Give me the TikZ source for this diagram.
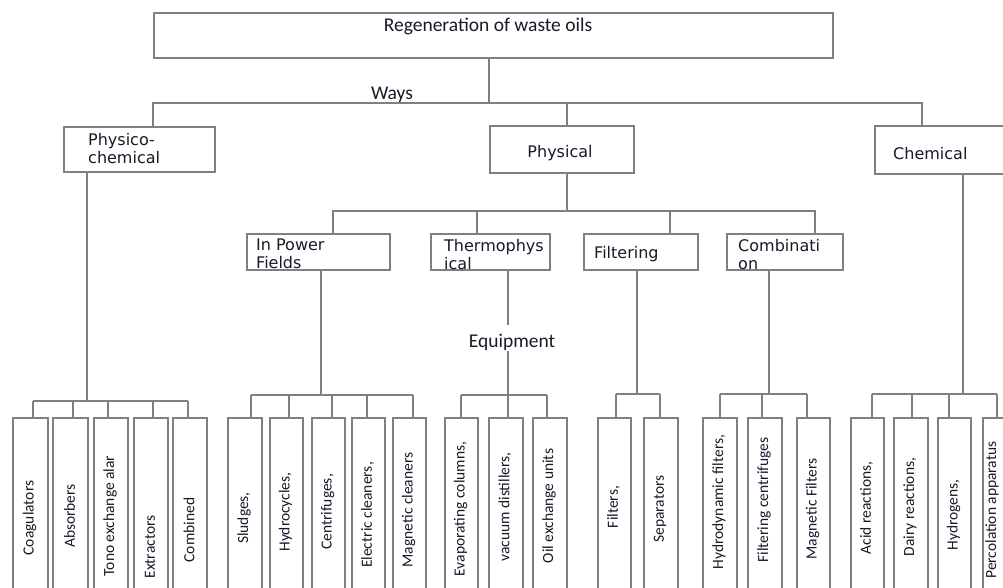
\documentclass[tikz,border=0pt]{standalone}
\usepackage{fontspec}
\setmainfont{Carlito}
\newfontfamily\boxfont{DejaVu Sans}
\usetikzlibrary{calc}

\definecolor{linegray}{RGB}{128,128,128}
\definecolor{inkdark}{RGB}{28,24,40}

% leaf: name, left x, right x, drop x, label y, bus coordinate, text
\newcommand\leaf[7]{%
  \node[leafbox, minimum width={(#3-#2)*1pt}] (#1) at (#2,417) {};
  \coordinate (#1-in) at (#4,417);
  \draw[conn] (#1-in |- #6) -- (#1-in);
  \node[leaflab] (#1-t) at ({(#2+#3)/2},#5) {#7};
}

\begin{document}
\begin{tikzpicture}[x=1pt,y=-1pt,
  conn/.style={draw=linegray, line width=1.6pt},
  box/.style={draw=linegray, line width=1.6pt, fill=white, inner sep=0pt, anchor=north west},
  leafbox/.style={box, minimum height=240pt},
  headlab/.style={font=\fontsize{19.5}{19.5}\selectfont, text=inkdark, inner sep=0pt},
  boxlab/.style={font=\boxfont\fontsize{16}{18}\selectfont, text=inkdark, inner sep=0pt,
    anchor=north west, align=left},
  leaflab/.style={font=\fontsize{15.5}{15.5}\selectfont, text=inkdark, inner sep=0pt, rotate=90},
]
\useasboundingbox (0,0) rectangle (1003,587);
\clip (0,0) rectangle (1003,587);
\fill[white] (0,0) rectangle (1003,587);

% root
\node[box, minimum width=679pt, minimum height=45pt] (top) at (153,12) {};
\node[headlab, anchor=base] (toplab) at (488,31) {Regeneration of waste oils};
\coordinate (top-out) at (489,57);
\coordinate (waysbus) at (489,103);
\node[headlab, anchor=base] (ways) at (392,99) {Ways};

% three ways
\node[box, minimum width=151pt, minimum height=45pt] (pc) at (63,126) {};
\node[boxlab] (pclab) at (88,133) {Physico-\\chemical};
\node[box, minimum width=144pt, minimum height=47pt] (ph) at (489,125) {};
\node[boxlab, anchor=base] (phlab) at (560,157) {Physical};
\node[box, minimum width=170pt, minimum height=48pt] (ch) at (874,125) {};
\node[boxlab, anchor=base west] (chlab) at (893,159) {Chemical};

\coordinate (pc-in) at (153,126);
\coordinate (ph-in) at (567,125);
\coordinate (ch-in) at (922,125);
\draw[conn] (top-out) -- (waysbus);
\draw[conn] (pc-in) -- (pc-in |- waysbus) -- (ch-in |- waysbus) -- (ch-in);
\draw[conn] (ph-in |- waysbus) -- (ph-in);

% physical methods
\coordinate (ph-out) at (567,172);
\coordinate (physbus) at (567,211);
\node[box, minimum width=143pt, minimum height=36pt] (ipf) at (246,233) {};
\node[boxlab] (ipflab) at (256,239) {In Power\\Fields};
\node[box, minimum width=119pt, minimum height=36pt] (thp) at (430,233) {};
\node[boxlab] (thplab) at (444,239) {Thermophys\\ical};
\node[box, minimum width=114pt, minimum height=36pt] (fil) at (583,233) {};
\node[boxlab, anchor=base west] (fillab) at (594,258) {Filtering};
\node[box, minimum width=116pt, minimum height=36pt] (cmb) at (726,233) {};
\node[boxlab] (cmblab) at (738,239) {Combinati\\on};

\coordinate (ipf-in) at (333,233);
\coordinate (thp-in) at (477,233);
\coordinate (fil-in) at (670,233);
\coordinate (cmb-in) at (815,233);
\draw[conn] (ph-out) -- (physbus);
\draw[conn] (ipf-in) -- (ipf-in |- physbus) -- (cmb-in |- physbus) -- (cmb-in);
\draw[conn] (thp-in |- physbus) -- (thp-in);
\draw[conn] (fil-in |- physbus) -- (fil-in);

% physico-chemical devices
\coordinate (pc-out) at (87,171);
\coordinate (g1) at (87,401);
\draw[conn] (pc-out) -- (g1);
\leaf{l11}{12}{47}{33}{518}{g1}{Coagulators}
\leaf{l12}{52}{87}{73}{516}{g1}{Absorbers}
\leaf{l13}{93}{127}{108}{516}{g1}{Tono exchange alar}
\leaf{l14}{133}{167}{153}{547}{g1}{Extractors}
\leaf{l15}{172}{206}{188}{530}{g1}{Combined}
\draw[conn] (l11-in |- g1) -- (l15-in |- g1);

% devices in power fields
\coordinate (ipf-out) at (321,269);
\coordinate (g2) at (321,395);
\draw[conn] (ipf-out) -- (g2);
\leaf{l21}{227}{261}{251}{518}{g2}{Sludges,}
\leaf{l22}{269}{302}{289}{512}{g2}{Hydrocycles,}
\leaf{l23}{311}{344}{332}{512}{g2}{Centrifuges,}
\leaf{l24}{351}{384}{367}{515}{g2}{Electric cleaners,}
\leaf{l25}{392}{425}{413}{510}{g2}{Magnetic cleaners}
\draw[conn] (l21-in |- g2) -- (l25-in |- g2);

% thermophysical equipment
\coordinate (thp-out) at (508,269);
\coordinate (g3) at (508,395);
\node[headlab, anchor=base] (equip) at (512,347) {Equipment};
\draw[conn] (thp-out) -- (thp-out |- 0,325);
\draw[conn] (g3 |- 0,351) -- (g3);
\leaf{l31}{444}{477}{461}{509}{g3}{Evaporating columns,}
\leaf{l32}{488}{522}{508}{507}{g3}{vacuum distillers,}
\leaf{l33}{532}{566}{547}{506}{g3}{Oil exchange units}
\draw[conn] (l31-in |- g3) -- (l33-in |- g3);

% filtering devices
\coordinate (fil-out) at (637,269);
\coordinate (g4) at (637,394);
\draw[conn] (fil-out) -- (g4);
\leaf{l41}{597}{630}{616}{507}{g4}{Filters,}
\leaf{l42}{643}{677}{660}{509}{g4}{Separators}
\draw[conn] (l41-in |- g4) -- (l42-in |- g4);

% combined devices
\coordinate (cmb-out) at (769,269);
\coordinate (g5) at (769,394);
\draw[conn] (cmb-out) -- (g5);
\leaf{l51}{702}{736}{720}{502}{g5}{Hydrodynamic filters,}
\leaf{l52}{747}{781}{762}{500}{g5}{Filtering centrifuges}
\leaf{l53}{796}{829}{807}{509}{g5}{Magnetic Filters}
\draw[conn] (l51-in |- g5) -- (l53-in |- g5);

% chemical methods
\coordinate (ch-out) at (963,173);
\coordinate (g6) at (963,394);
\draw[conn] (ch-out) -- (g6);
\leaf{l61}{850}{883}{872}{508}{g6}{Acid reactions,}
\leaf{l62}{893}{927}{912}{507}{g6}{Dairy reactions,}
\leaf{l63}{937}{970}{949}{515}{g6}{Hydrogens,}
\node[leafbox, minimum width=34pt] (l64) at (982,417) {};
\coordinate (l64-in) at (997,417);
\draw[conn] (l64-in |- g6) -- (l64-in);
\node[leaflab] (l64-t) at (992,510) {Percolation apparatus};
\draw[conn] (l61-in |- g6) -- (l64-in |- g6);
\end{tikzpicture}
\end{document}
